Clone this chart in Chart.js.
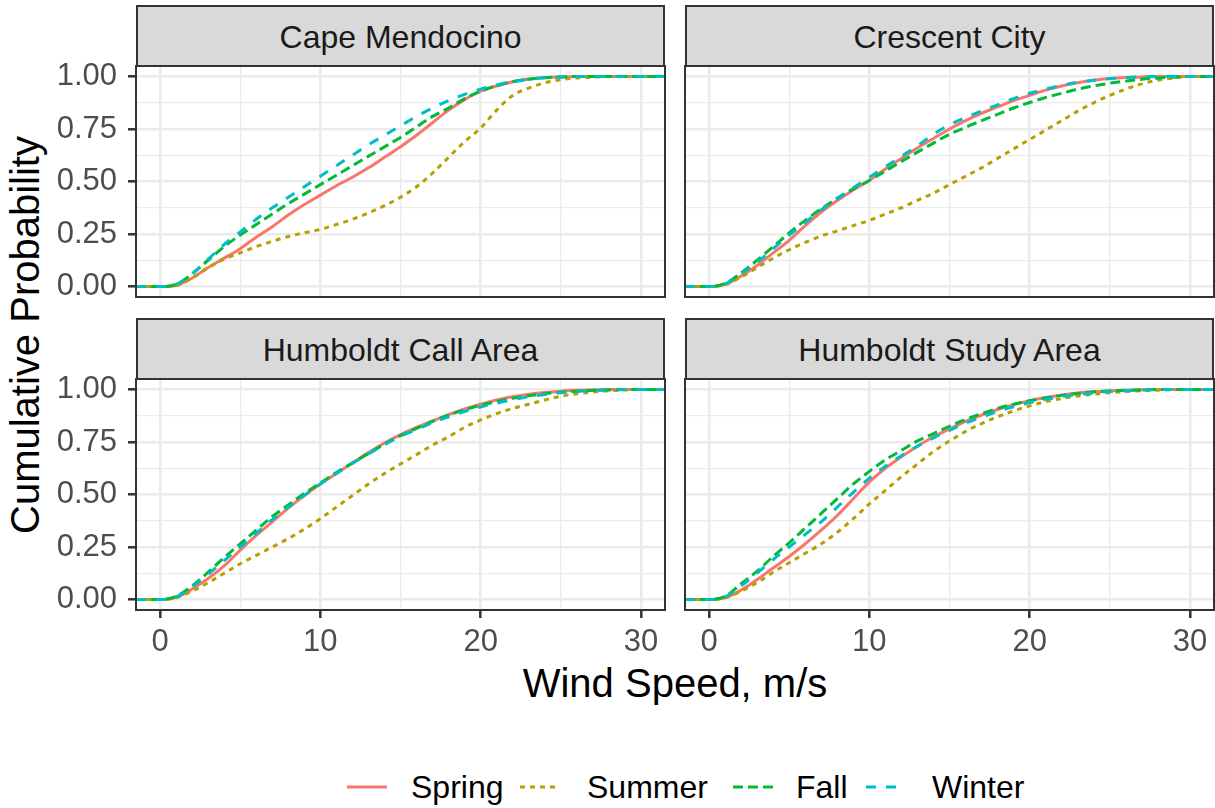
<!DOCTYPE html>
<html lang="en">
<head>
<meta charset="utf-8">
<title>Cumulative wind speed probability by season</title>
<script src="https://cdn.jsdelivr.net/npm/chart.js@4.4.1/dist/chart.umd.min.js"></script>
<style>
  html, body { margin: 0; padding: 0; background: #ffffff; overflow: hidden; }
  body { position: relative; width: 1215px; height: 808px; font-family: "Liberation Sans", Arial, sans-serif; }
  canvas { position: absolute; }
  .strip {
    position: absolute; box-sizing: border-box; width: 529px; height: 62px; padding-top: 3px;
    background: #d9d9d9; border: 2px solid #333333; color: #1a1a1a; font-size: 32px;
    display: flex; align-items: center; justify-content: center; white-space: nowrap;
  }
  .axis-title { position: absolute; font-size: 40px; line-height: 1; color: #000000; white-space: nowrap; }
  .legend-text { position: absolute; top: 771px; font-size: 32px; line-height: 1; color: #000000; white-space: nowrap; }
  svg.legend { position: absolute; left: 0; top: 770px; }
</style>
</head>
<body>
<div class="axis-title" style="left:25px; top:335px; transform: translate(-50%, -50%) rotate(-90deg);">Cumulative Probability</div>
<div class="axis-title" style="left:675px; top:663px; transform: translateX(-50%);">Wind Speed, m/s</div>
<script>
// wind speed (m/s) at which each curve is sampled
const speeds = [-1.5, 0, 1, 2, 3, 4, 5, 6, 7, 8, 9, 10, 11, 12, 13, 14, 15,
  16, 17, 18, 19, 20, 21, 22, 23, 24, 25, 26, 27, 28, 29, 30, 31.5];

const sites = ['Cape Mendocino', 'Crescent City', 'Humboldt Call Area', 'Humboldt Study Area'];
const seasons = ['Spring', 'Summer', 'Fall', 'Winter'];

// cumulative probability per site and season
const capeSpring = [0, 0, 0.005, 0.04, 0.09, 0.135, 0.18, 0.235, 0.285, 0.34, 0.39, 0.435, 0.48, 0.52, 0.565, 0.615, 0.665,
  0.72, 0.78, 0.84, 0.89, 0.93, 0.955, 0.975, 0.988, 0.995, 0.998, 1, 1, 1, 1, 1, 1];
const capeSummer = [0, 0, 0.005, 0.04, 0.09, 0.13, 0.16, 0.19, 0.215, 0.238, 0.256, 0.272, 0.295, 0.32, 0.35, 0.385, 0.425,
  0.475, 0.54, 0.615, 0.69, 0.755, 0.84, 0.91, 0.945, 0.97, 0.985, 0.993, 0.997, 1, 1, 1, 1];
const capeFall = [0, 0, 0.01, 0.06, 0.125, 0.19, 0.245, 0.295, 0.345, 0.395, 0.44, 0.485, 0.53, 0.575, 0.62, 0.665, 0.71,
  0.76, 0.81, 0.85, 0.895, 0.93, 0.957, 0.975, 0.987, 0.994, 0.998, 1, 1, 1, 1, 1, 1];
const capeWinter = [0, 0, 0.01, 0.06, 0.13, 0.2, 0.26, 0.32, 0.375, 0.425, 0.475, 0.525, 0.575, 0.625, 0.675, 0.72, 0.765,
  0.81, 0.85, 0.885, 0.915, 0.94, 0.96, 0.975, 0.987, 0.994, 0.998, 1, 1, 1, 1, 1, 1];

const crescentSpring = [0, 0, 0.01, 0.05, 0.1, 0.16, 0.22, 0.29, 0.355, 0.41, 0.46, 0.505, 0.56, 0.61, 0.66, 0.705, 0.75,
  0.79, 0.825, 0.855, 0.885, 0.91, 0.935, 0.955, 0.97, 0.982, 0.99, 0.995, 0.998, 1, 1, 1, 1];
const crescentSummer = [0, 0, 0.01, 0.045, 0.09, 0.135, 0.175, 0.21, 0.24, 0.265, 0.29, 0.315, 0.345, 0.375, 0.41, 0.445, 0.485,
  0.525, 0.565, 0.61, 0.655, 0.7, 0.745, 0.79, 0.835, 0.875, 0.91, 0.94, 0.965, 0.982, 0.993, 1, 1];
const crescentFall = [0, 0, 0.015, 0.065, 0.125, 0.19, 0.255, 0.315, 0.37, 0.42, 0.465, 0.505, 0.55, 0.595, 0.64, 0.683, 0.725,
  0.758, 0.79, 0.82, 0.85, 0.876, 0.9, 0.92, 0.94, 0.955, 0.968, 0.978, 0.987, 0.993, 0.997, 1, 1];
const crescentWinter = [0, 0, 0.012, 0.06, 0.115, 0.18, 0.245, 0.305, 0.365, 0.42, 0.47, 0.52, 0.57, 0.62, 0.67, 0.725, 0.77,
  0.805, 0.835, 0.865, 0.895, 0.92, 0.94, 0.958, 0.972, 0.982, 0.99, 0.995, 0.998, 1, 1, 1, 1];

const callSpring = [0, 0, 0.01, 0.05, 0.1, 0.16, 0.235, 0.305, 0.37, 0.435, 0.495, 0.55, 0.6, 0.65, 0.7, 0.745, 0.785,
  0.82, 0.85, 0.88, 0.907, 0.93, 0.95, 0.965, 0.977, 0.986, 0.992, 0.996, 0.998, 1, 1, 1, 1];
const callSummer = [0, 0, 0.008, 0.04, 0.08, 0.125, 0.17, 0.21, 0.25, 0.29, 0.335, 0.385, 0.44, 0.495, 0.55, 0.6, 0.645,
  0.69, 0.735, 0.775, 0.82, 0.855, 0.885, 0.91, 0.93, 0.95, 0.968, 0.98, 0.988, 0.994, 0.998, 1, 1];
const callFall = [0, 0, 0.015, 0.065, 0.13, 0.2, 0.265, 0.33, 0.395, 0.45, 0.505, 0.555, 0.605, 0.65, 0.695, 0.74, 0.78,
  0.815, 0.848, 0.878, 0.903, 0.925, 0.943, 0.958, 0.97, 0.98, 0.987, 0.992, 0.996, 0.998, 1, 1, 1];
const callWinter = [0, 0, 0.012, 0.06, 0.12, 0.185, 0.25, 0.315, 0.38, 0.44, 0.495, 0.55, 0.6, 0.648, 0.693, 0.737, 0.777,
  0.81, 0.842, 0.87, 0.895, 0.917, 0.935, 0.952, 0.965, 0.976, 0.985, 0.991, 0.995, 0.998, 1, 1, 1];

const studySpring = [0, 0, 0.008, 0.045, 0.095, 0.15, 0.205, 0.265, 0.33, 0.4, 0.48, 0.56, 0.625, 0.68, 0.73, 0.775, 0.812,
  0.848, 0.878, 0.905, 0.928, 0.947, 0.962, 0.974, 0.983, 0.99, 0.994, 0.997, 0.999, 1, 1, 1, 1];
const studySummer = [0, 0, 0.008, 0.04, 0.08, 0.13, 0.175, 0.22, 0.265, 0.32, 0.385, 0.455, 0.52, 0.585, 0.645, 0.705, 0.755,
  0.8, 0.838, 0.87, 0.898, 0.922, 0.942, 0.957, 0.969, 0.978, 0.985, 0.99, 0.994, 0.997, 0.999, 1, 1];
const studyFall = [0, 0, 0.015, 0.075, 0.135, 0.205, 0.27, 0.34, 0.41, 0.48, 0.55, 0.61, 0.665, 0.71, 0.755, 0.79, 0.825,
  0.857, 0.885, 0.91, 0.93, 0.947, 0.96, 0.972, 0.981, 0.988, 0.993, 0.996, 0.998, 1, 1, 1, 1];
const studyWinter = [0, 0, 0.012, 0.065, 0.125, 0.19, 0.25, 0.31, 0.37, 0.44, 0.51, 0.578, 0.635, 0.685, 0.73, 0.77, 0.805,
  0.84, 0.868, 0.895, 0.918, 0.938, 0.953, 0.966, 0.976, 0.984, 0.99, 0.994, 0.997, 1, 1, 1, 1];

const siteSeries = [
  [capeSpring, capeSummer, capeFall, capeWinter],
  [crescentSpring, crescentSummer, crescentFall, crescentWinter],
  [callSpring, callSummer, callFall, callWinter],
  [studySpring, studySummer, studyFall, studyWinter]
];

// axis breaks and their labels
const xMajor = [0, 10, 20, 30];
const xMinor = [5, 15, 25];
const xTickLabels = ['0', '10', '20', '30'];
const yMajor = [0, 0.25, 0.5, 0.75, 1];
const yMinor = [0.125, 0.375, 0.625, 0.875];
const yTickLabels = ['0.00', '0.25', '0.50', '0.75', '1.00'];

// look of each season
const seasonColors = ['#F8766D', '#B79F00', '#00BA38', '#00BFC4'];
const seasonDashes = [[], [5, 5], [10, 5], [10, 10]];

// panel placement
const PANEL_W = 529, PANEL_H = 231;
const panelPos = [[136, 66], [685, 66], [136, 379], [685, 379]];
const AXIS_W = 136, AXIS_H = 60, PAD_T = 32, PAD_R = 6;
const FONT = '"Liberation Sans", Arial, sans-serif';
const GRID = '#EBEBEB', INK = '#333333';

Chart.defaults.font.family = FONT;

const panelFrame = {
  id: 'panelFrame',
  afterDraw(chart) {
    const { ctx, chartArea: a } = chart;
    ctx.save();
    ctx.strokeStyle = INK;
    ctx.lineWidth = 2;
    ctx.strokeRect(a.left, a.top, a.right - a.left, a.bottom - a.top);
    ctx.restore();
  }
};

const sorted = arr => arr.slice().sort((a, b) => a - b);

function isMajor(list, ctx) {
  return ctx.tick && list.includes(ctx.tick.value);
}

function drawPanel(p) {
  const [left, top] = panelPos[p];
  const showX = p >= 2;
  const showY = p % 2 === 0;

  const strip = document.createElement('div');
  strip.className = 'strip';
  strip.style.left = left + 'px';
  strip.style.top = (top - 61) + 'px';
  strip.textContent = sites[p];
  document.body.appendChild(strip);

  const canvas = document.createElement('canvas');
  const w = AXIS_W + PANEL_W + PAD_R;
  const h = PAD_T + PANEL_H + AXIS_H;
  canvas.width = w;
  canvas.height = h;
  canvas.style.width = w + 'px';
  canvas.style.height = h + 'px';
  canvas.style.left = (left - AXIS_W) + 'px';
  canvas.style.top = (top - PAD_T) + 'px';
  document.body.appendChild(canvas);

  const datasets = seasons.map((name, i) => ({
    label: name,
    data: speeds.map((s, k) => ({ x: s, y: siteSeries[p][i][k] })),
    borderColor: seasonColors[i],
    borderWidth: 3,
    borderDash: seasonDashes[i],
    cubicInterpolationMode: 'monotone',
    pointRadius: 0,
    fill: false,
    order: seasons.length - i
  }));

  new Chart(canvas, {
    type: 'line',
    data: { datasets },
    options: {
      responsive: false,
      animation: false,
      events: [],
      layout: { padding: { top: PAD_T, right: PAD_R, left: 0, bottom: 0 } },
      plugins: { legend: { display: false }, tooltip: { enabled: false } },
      scales: {
        x: {
          type: 'linear',
          min: -1.5,
          max: 31.5,
          afterBuildTicks: s => { s.ticks = sorted(xMajor.concat(xMinor)).map(v => ({ value: v })); },
          afterFit: s => { s.height = AXIS_H; },
          border: { display: false },
          grid: {
            color: GRID,
            lineWidth: c => isMajor(xMajor, c) ? 2.6 : 1.3,
            drawTicks: showX,
            tickLength: 8,
            tickWidth: 2.5,
            tickColor: c => isMajor(xMajor, c) ? INK : 'rgba(0,0,0,0)'
          },
          ticks: {
            display: showX,
            autoSkip: false,
            maxRotation: 0,
            padding: 6,
            color: '#4D4D4D',
            font: { size: 31 },
            callback: v => {
              const k = xMajor.indexOf(v);
              return k < 0 ? '' : xTickLabels[k];
            }
          }
        },
        y: {
          type: 'linear',
          min: -0.05,
          max: 1.05,
          afterBuildTicks: s => { s.ticks = sorted(yMajor.concat(yMinor)).map(v => ({ value: v })); },
          afterFit: s => { s.width = AXIS_W; },
          border: { display: false },
          grid: {
            color: GRID,
            lineWidth: c => isMajor(yMajor, c) ? 2.6 : 1.3,
            drawTicks: showY,
            tickLength: 8,
            tickWidth: 2.5,
            tickColor: c => isMajor(yMajor, c) ? INK : 'rgba(0,0,0,0)'
          },
          ticks: {
            display: showY,
            autoSkip: false,
            padding: 11,
            color: '#4D4D4D',
            font: { size: 31 },
            callback: v => {
              const k = yMajor.indexOf(v);
              return k < 0 ? '' : yTickLabels[k];
            }
          }
        }
      }
    },
    plugins: [panelFrame]
  });
}

for (let p = 0; p < sites.length; p++) drawPanel(p);

// legend along the bottom
const keyX = [347, 520, 733, 866];
const textX = [411, 587, 796, 932];
const svgNS = 'http://www.w3.org/2000/svg';
const svg = document.createElementNS(svgNS, 'svg');
svg.setAttribute('class', 'legend');
svg.setAttribute('width', 1215);
svg.setAttribute('height', 36);
seasons.forEach((name, i) => {
  const line = document.createElementNS(svgNS, 'line');
  line.setAttribute('x1', keyX[i]);
  line.setAttribute('x2', keyX[i] + 40);
  line.setAttribute('y1', 17);
  line.setAttribute('y2', 17);
  line.setAttribute('stroke', seasonColors[i]);
  line.setAttribute('stroke-width', 3);
  if (seasonDashes[i].length) line.setAttribute('stroke-dasharray', seasonDashes[i].join(' '));
  svg.appendChild(line);

  const label = document.createElement('div');
  label.className = 'legend-text';
  label.style.left = textX[i] + 'px';
  label.textContent = name;
  document.body.appendChild(label);
});
document.body.appendChild(svg);
</script>
</body>
</html>
